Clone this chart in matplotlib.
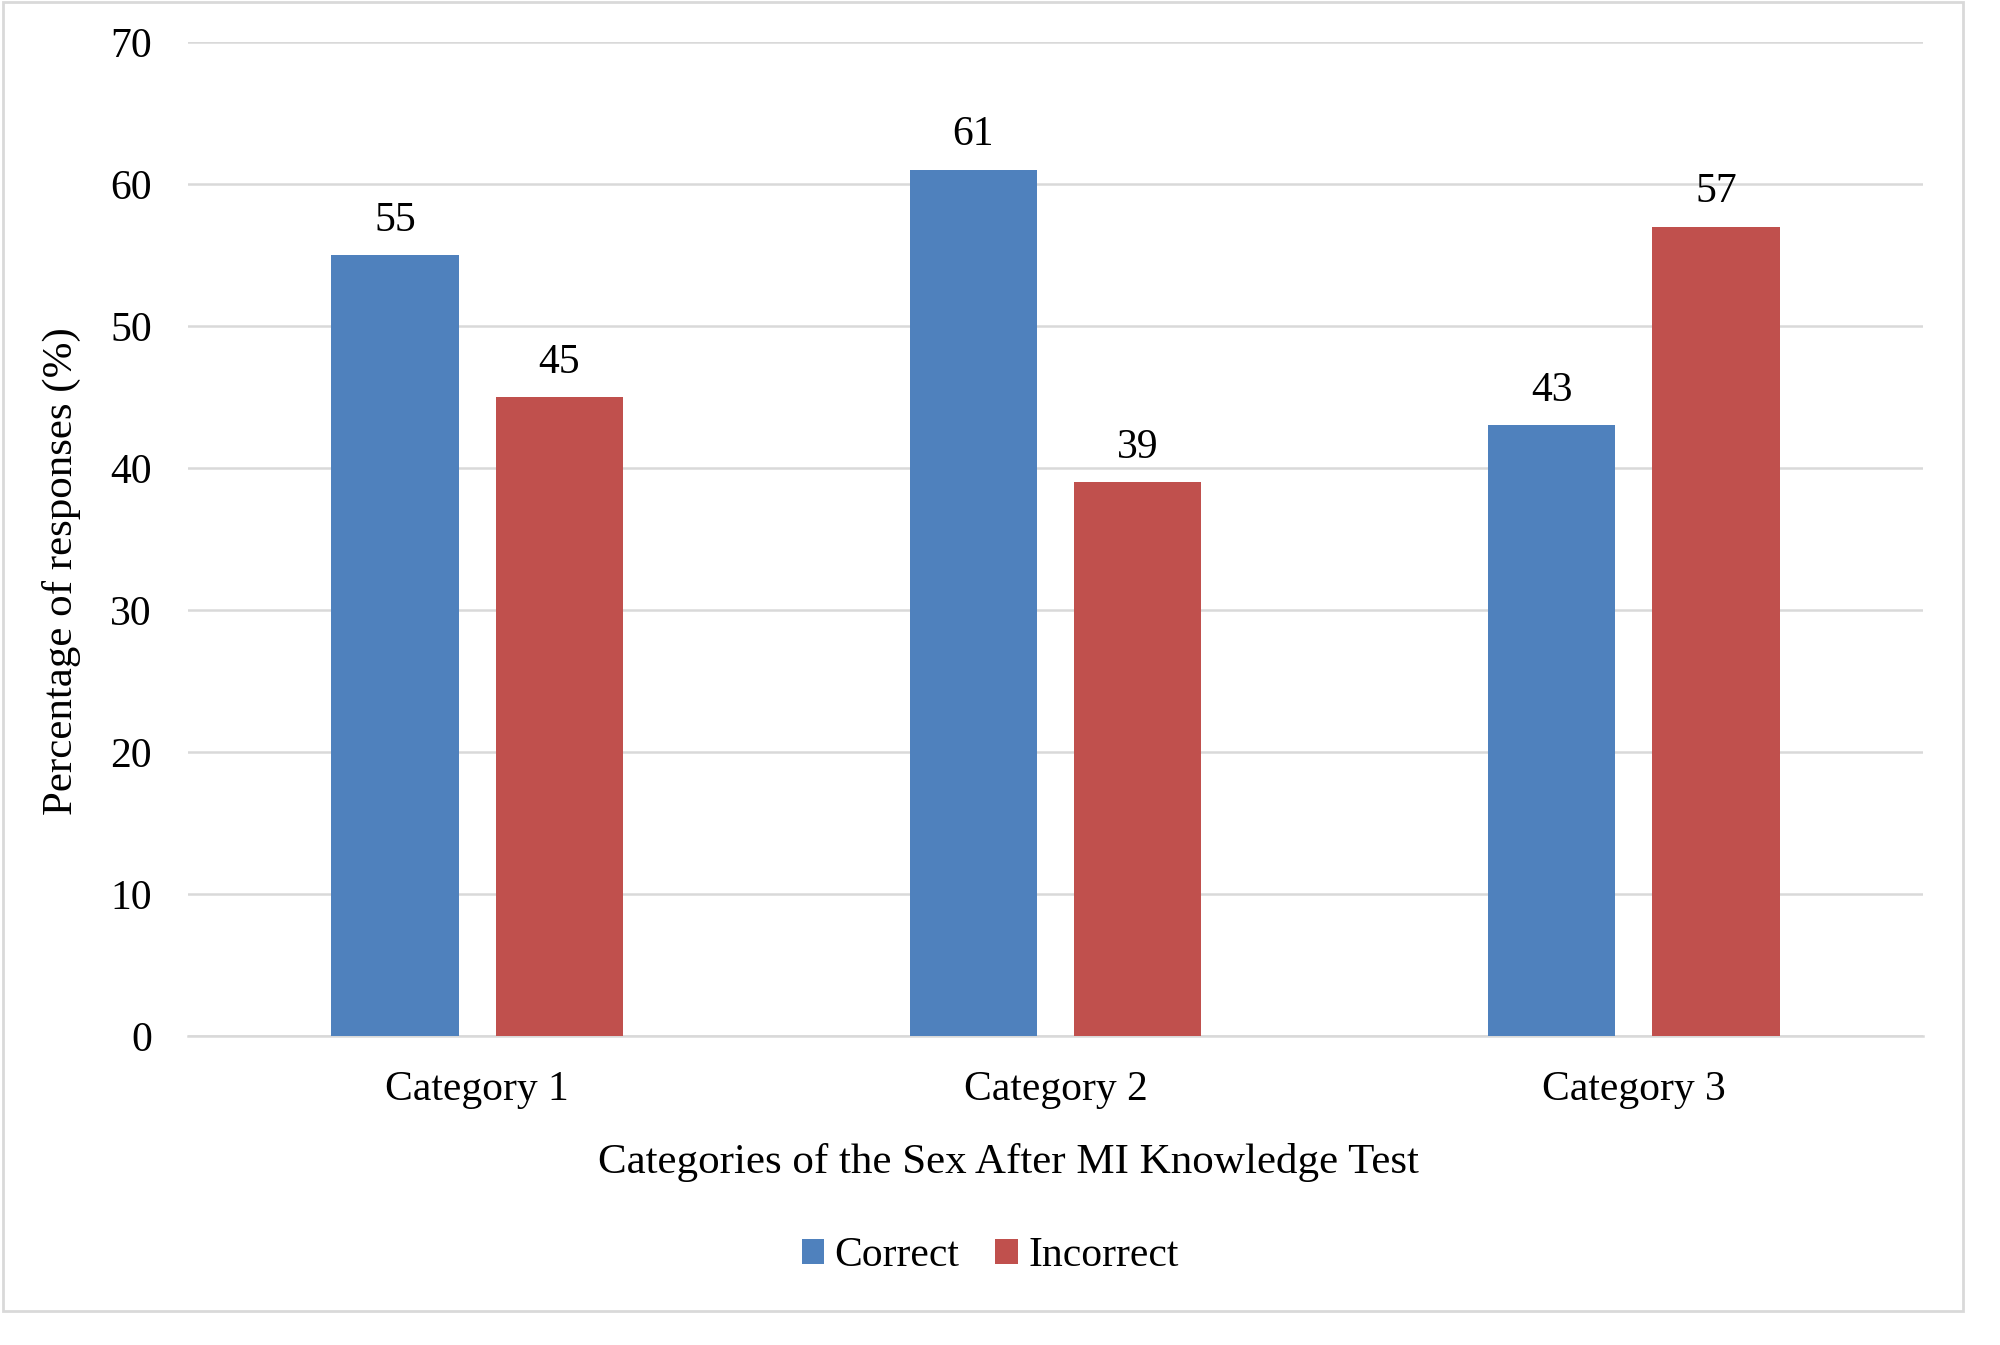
import matplotlib.pyplot as plt
from matplotlib.patches import Rectangle
import numpy as np

categories = ['Category 1', 'Category 2', 'Category 3']
correct = [55, 61, 43]
incorrect = [45, 39, 57]
series_names = ['Correct', 'Incorrect']
yticks = [0, 10, 20, 30, 40, 50, 60, 70]

plt.rcParams['font.family'] = ['Liberation Serif', 'DejaVu Serif']
plt.rcParams['font.size'] = 30

fig = plt.figure(figsize=(20, 13.45), dpi=100)
ax = fig.add_axes([0.094, 0.2297, 0.8675, 0.7391])

x = np.arange(len(categories))
w = 0.22
off = 0.142
blue = '#4F81BD'
red = '#C0504D'

b1 = ax.bar(x - off, correct, w, color=blue, label=series_names[0], zorder=3)
b2 = ax.bar(x + off, incorrect, w, color=red, label=series_names[1], zorder=3)

for bars, vals in [(b1, correct), (b2, incorrect)]:
    for rect, v in zip(bars, vals):
        ax.annotate(str(v), (rect.get_x() + rect.get_width() / 2, v),
                    xytext=(0, 17.5), textcoords='offset points',
                    ha='center', va='baseline', fontsize=30)

ax.set_xlim(-0.5, 2.5)
ax.set_ylim(0, 70)
ax.set_yticks(yticks)
ax.set_xticks(x)
ax.set_xticklabels(categories)
ax.grid(axis='y', color='#d9d9d9', lw=1.8, zorder=0)
for s in ['top', 'right', 'left']:
    ax.spines[s].set_visible(False)
ax.spines['bottom'].set_color('#d9d9d9')
ax.spines['bottom'].set_linewidth(1.8)
ax.tick_params(axis='y', length=0, pad=26)
ax.tick_params(axis='x', length=0, pad=24.5)

fig.text(1008 / 2000, 1 - 1162 / 1345, 'Categories of the Sex After MI Knowledge Test',
         ha='center', va='center', fontsize=31)
fig.text(61 / 2000, 1 - 571 / 1345, 'Percentage of responses (%)',
         ha='center', va='center', rotation=90, fontsize=31)

ax.legend(loc='center', bbox_to_anchor=(990 / 2000, 1 - 1256 / 1345),
          bbox_transform=fig.transFigure, ncol=2, frameon=False,
          handlelength=0.55, handleheight=0.55, handletextpad=0.24,
          columnspacing=0.86, fontsize=30)

fig.patches.append(Rectangle((3 / 2000, 1 - 1311 / 1345), 1960 / 2000, 1309 / 1345,
                             transform=fig.transFigure, fill=False,
                             ec='#d9d9d9', lw=2))

fig.savefig('out.png', dpi=100)
